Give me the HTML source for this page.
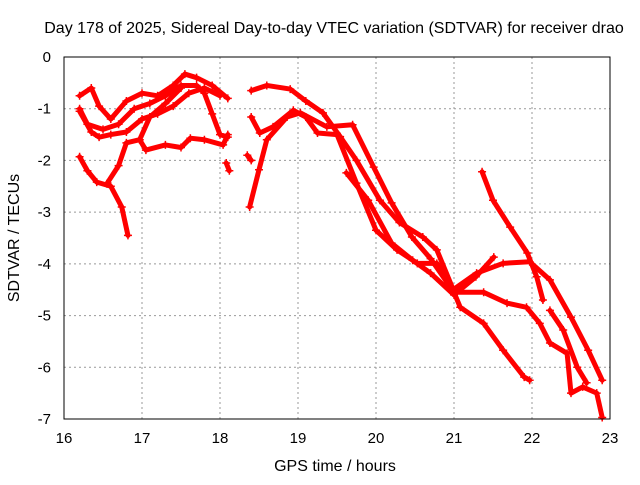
<!DOCTYPE html>
<html><head><meta charset="utf-8"><style>
body{margin:0;background:#fff}
svg text{font-family:"Liberation Sans",sans-serif;font-size:16px;fill:#000}
svg text.tk{font-size:15px}
</style></head><body>
<svg id="c" width="640" height="480">
<text x="334" y="33" text-anchor="middle">Day 178 of 2025, Sidereal Day-to-day VTEC variation (SDTVAR) for receiver drao</text>
<text x="335" y="471" text-anchor="middle">GPS time / hours</text>
<text transform="translate(19,238) rotate(-90)" text-anchor="middle">SDTVAR / TECUs</text>
<g id="grid"></g><g id="marks"></g>
<rect x="64" y="57" width="546" height="362" fill="none" stroke="#000" stroke-width="1"/>
</svg>
<script>
const xTicks=[16,17,18,19,20,21,22,23];
const yTicks=[0,-1,-2,-3,-4,-5,-6,-7];
const t1=[[16.2,-0.75],[16.35,-0.6],[16.45,-0.95],[16.6,-1.2],[16.8,-0.85],[17.0,-0.7],[17.2,-0.75],[17.4,-0.55],[17.55,-0.33],[17.7,-0.4],[17.9,-0.55],[18.1,-0.8]];
const t2=[[16.2,-1.0],[16.3,-1.3],[16.5,-1.4],[16.7,-1.3],[16.9,-1.0],[17.1,-0.9],[17.3,-0.75],[17.5,-0.55],[17.7,-0.55],[17.8,-0.7],[17.9,-1.1],[18.0,-1.5],[18.1,-1.55]];
const t3=[[16.2,-1.05],[16.35,-1.45],[16.45,-1.55],[16.6,-1.5],[16.8,-1.45],[17.0,-1.2],[17.2,-1.1],[17.4,-0.95],[17.6,-0.7],[17.8,-0.6],[18.0,-0.75]];
const t4=[[16.2,-1.93],[16.3,-2.2],[16.42,-2.42],[16.6,-2.5],[16.74,-2.9],[16.82,-3.45]];
const t5=[[16.55,-2.45],[16.7,-2.1],[16.8,-1.66],[16.97,-1.6],[17.05,-1.8],[17.3,-1.7],[17.5,-1.75],[17.62,-1.57],[17.8,-1.6],[18.04,-1.7],[18.1,-1.5]];
const t6=[[16.97,-1.6],[17.1,-1.16],[17.3,-0.9],[17.5,-0.6]];
const t7=[[18.08,-2.05],[18.12,-2.2]];
const t8=[[18.4,-0.65],[18.6,-0.55],[18.9,-0.62],[19.1,-0.85],[19.32,-1.08],[19.54,-1.54],[19.75,-2.0],[20.05,-2.77],[20.3,-3.2],[20.6,-3.48],[20.78,-3.73],[20.99,-4.5],[21.29,-4.18],[21.63,-3.99],[21.97,-3.96],[22.23,-4.31],[22.5,-5.03],[22.72,-5.67],[22.9,-6.25]];
const t9=[[18.4,-1.16],[18.51,-1.47],[18.68,-1.35],[18.94,-1.03],[19.1,-1.16],[19.25,-1.47],[19.5,-1.5],[19.75,-2.44],[20.0,-3.35],[20.27,-3.73],[20.53,-3.99],[20.78,-3.99],[21.0,-4.55],[21.38,-4.55],[21.68,-4.76],[21.93,-4.84],[22.1,-5.15],[22.23,-5.53],[22.45,-5.73],[22.5,-6.5],[22.65,-6.38],[22.83,-6.5],[22.9,-6.97]];
const t10=[[18.38,-2.9],[18.5,-2.18],[18.6,-1.6],[18.86,-1.16],[19.03,-1.08],[19.37,-1.35],[19.7,-1.31],[19.97,-2.13],[20.2,-2.82],[20.46,-3.48],[20.7,-3.9],[21.0,-4.55],[21.08,-4.84],[21.38,-5.15],[21.63,-5.67],[21.9,-6.19],[21.97,-6.25]];
const t11=[[19.62,-2.24],[19.9,-2.77],[20.2,-3.6],[20.47,-3.93],[20.7,-4.18],[21.0,-4.6],[21.28,-4.25],[21.51,-3.87]];
const t12=[[21.36,-2.22],[21.5,-2.77],[21.72,-3.29],[21.94,-3.79],[22.06,-4.25],[22.14,-4.7]];
const t13=[[22.23,-4.9],[22.4,-5.28],[22.58,-6.0],[22.7,-6.3]];
const t14=[[18.35,-1.9],[18.4,-2.0]];
const tracks=[t1,t2,t3,t4,t5,t6,t7,t8,t9,t10,t11,t12,t13,t14];
const X=h=>64+(h-16)*78, Y=v=>57-v*51.714;
const ns="http://www.w3.org/2000/svg";
const g=document.getElementById('grid'), m=document.getElementById('marks'), svg=document.getElementById('c');
xTicks.forEach(t=>{
 const l=document.createElementNS(ns,'line');
 
 
 l.setAttribute('x1',X(t));l.setAttribute('x2',X(t));l.setAttribute('y1',57);l.setAttribute('y2',419);
 l.setAttribute('stroke',(t==16||t==23)?'none':'#999');l.setAttribute('stroke-dasharray','2,3');g.appendChild(l);
 const k=document.createElementNS(ns,'text');
 
 
 k.setAttribute('class','tk');
 k.setAttribute('x',X(t));k.setAttribute('y',443);k.setAttribute('text-anchor','middle');k.textContent=t;svg.appendChild(k);
});
yTicks.forEach(t=>{
 const l=document.createElementNS(ns,'line');
 
 
 l.setAttribute('x1',64);l.setAttribute('x2',610);l.setAttribute('y1',Y(t));l.setAttribute('y2',Y(t));
 l.setAttribute('stroke',(t==0||t==-7)?'none':'#999');l.setAttribute('stroke-dasharray','2,3');g.appendChild(l);
 const k=document.createElementNS(ns,'text');
 
 
 k.setAttribute('class','tk');
 k.setAttribute('x',51);k.setAttribute('y',Y(t)+5);k.setAttribute('text-anchor','end');k.textContent=t;svg.appendChild(k);
});
tracks.forEach(tr=>{
 const p=document.createElementNS(ns,'polyline');
 
 
 p.setAttribute('points',tr.map(d=>X(d[0])+','+Y(d[1])).join(' '));
 p.setAttribute('fill','none');p.setAttribute('stroke','#f00');p.setAttribute('stroke-width','5');
 p.setAttribute('stroke-linejoin','round');p.setAttribute('stroke-linecap','round');m.appendChild(p);
 tr.forEach(d=>{
  const c=document.createElementNS(ns,'path');
  
  
  const x=X(d[0]),y=Y(d[1]);
  c.setAttribute('d',`M${x-4},${y}h8M${x},${y-4}v8`);c.setAttribute('stroke','#f00');c.setAttribute('stroke-width','1.5');m.appendChild(c);
 });
});
</script>
</body></html>
